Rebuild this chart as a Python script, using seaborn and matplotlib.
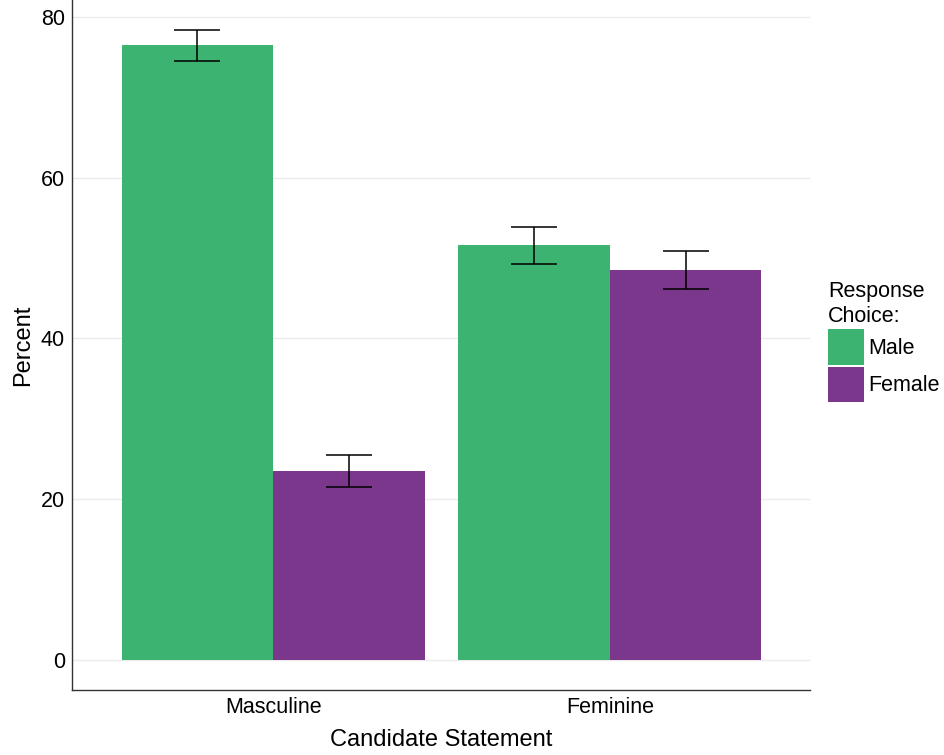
import pandas as pd
import numpy as np
import matplotlib.pyplot as plt
import seaborn as sns

# data
statements = ["Masculine", "Masculine", "Feminine", "Feminine"]
choices = ["Male", "Female", "Male", "Female"]
percent = [76.5, 23.5, 51.6, 48.5]
err_low = [74.5, 21.5, 49.3, 46.1]
err_high = [78.4, 25.5, 53.9, 50.9]

df = pd.DataFrame({"Statement": statements, "Choice": choices, "Percent": percent,
                   "lo": err_low, "hi": err_high})

sns.set_theme(style="white")
plt.rcParams['font.family'] = ['Liberation Sans', 'DejaVu Sans']
plt.rcParams['text.color'] = 'black'

palette = {"Male": "#3CB371", "Female": "#7A378B"}

fig = plt.figure(figsize=(9.44, 7.55), dpi=100)
ax = fig.add_axes([0.0763, 0.0861, 0.7817, 0.9139])

sns.barplot(data=df, x="Statement", y="Percent", hue="Choice",
            order=["Masculine", "Feminine"], hue_order=["Male", "Female"],
            palette=palette, errorbar=None, width=0.9, saturation=1,
            linewidth=0, ax=ax)

# error bars at the centre of each bar
for cont, choice in zip(ax.containers, ["Male", "Female"]):
    sub = df[df["Choice"] == choice].set_index("Statement").loc[["Masculine", "Feminine"]]
    xs = [p.get_x() + p.get_width() / 2 for p in cont.patches]
    mid = sub["Percent"].values
    yerr = np.vstack([mid - sub["lo"].values, sub["hi"].values - mid])
    ax.errorbar(xs, mid, yerr=yerr, fmt="none", ecolor="black",
                elinewidth=1.1, capsize=16.5, capthick=1.1, zorder=5)

ax.set_xlim(-0.597, 1.594)
ax.set_ylim(-3.73, 82.1)
ax.set_yticks([0, 20, 40, 60, 80])
ax.yaxis.grid(True, color="#EBEBEB", linewidth=1)
ax.xaxis.grid(False)
ax.set_axisbelow(True)
for s in ["top", "right"]:
    ax.spines[s].set_visible(False)
for s in ["left", "bottom"]:
    ax.spines[s].set_color("#333333")
    ax.spines[s].set_linewidth(1)
ax.tick_params(axis="both", length=0, labelsize=15.5, labelcolor="black", pad=5)
ax.set_xlabel("Candidate Statement", fontsize=17, labelpad=8, color="black")
ax.set_ylabel("Percent", fontsize=17, labelpad=5, color="black")

handles, labels = ax.get_legend_handles_labels()
ax.legend_.remove()
leg = fig.legend(handles, labels, title="Response\nChoice:", loc="upper left",
                 bbox_to_anchor=(828 / 944, 1 - 281 / 755), frameon=False,
                 fontsize=15.5, title_fontsize=15.5, handlelength=1.65,
                 handleheight=2.15, labelspacing=0.1, handletextpad=0.2,
                 borderaxespad=0, borderpad=0, labelcolor="black")
leg._legend_box.align = "left"
leg.get_title().set_linespacing(1.25)
leg.get_title().set_color("black")

fig.savefig("out.png", dpi=100)
